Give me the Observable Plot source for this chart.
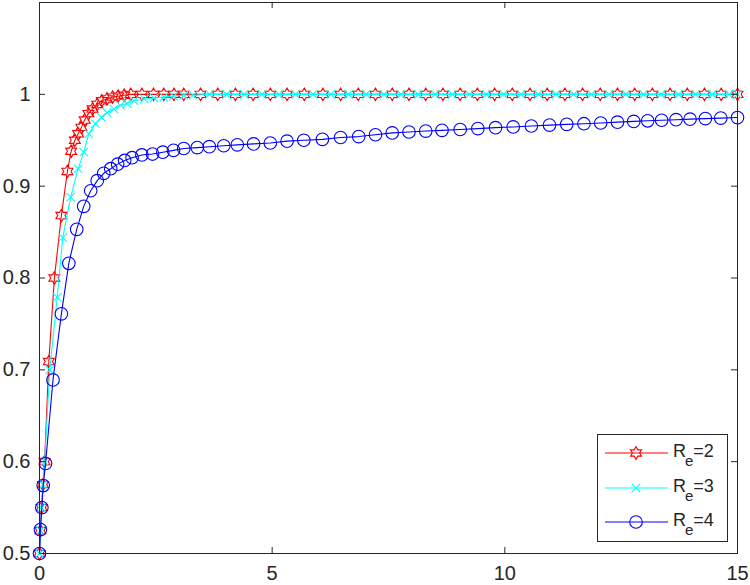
<!DOCTYPE html>
<html><head><meta charset="utf-8">
<script src="https://cdn.jsdelivr.net/npm/d3@7"></script>
<script src="https://cdn.jsdelivr.net/npm/@observablehq/plot@0.6"></script>
<style>html,body{margin:0;padding:0;background:#fff}</style>
</head><body><div id="chart"></div>
<script>
// R_e = 2 (red hexagrams)
const xRe2 = [0, 0.02, 0.045, 0.075, 0.11, 0.2, 0.32, 0.47, 0.6, 0.68, 0.76, 0.83, 0.9, 0.97, 1.05, 1.14, 1.24, 1.34, 1.45, 1.57, 1.69, 1.82, 1.96, 2.2, 2.45, 2.67, 2.89, 3.1, 3.46, 3.83, 4.21, 4.59, 4.96, 5.32, 5.69, 6.09, 6.47, 6.85, 7.22, 7.58, 7.94, 8.3, 8.67, 9.04, 9.41, 9.78, 10.16, 10.54, 10.91, 11.29, 11.67, 12.05, 12.42, 12.79, 13.17, 13.55, 13.92, 14.29, 14.65, 15];
const yRe2 = [0.5, 0.525, 0.55, 0.575, 0.6, 0.709, 0.8, 0.868, 0.916, 0.938, 0.95, 0.957, 0.964, 0.972, 0.979, 0.984, 0.989, 0.993, 0.995, 0.997, 0.998, 0.999, 1, 1, 1, 1, 1, 1, 1, 1, 1, 1, 1, 1, 1, 1, 1, 1, 1, 1, 1, 1, 1, 1, 1, 1, 1, 1, 1, 1, 1, 1, 1, 1, 1, 1, 1, 1, 1, 1];
// R_e = 3 (cyan crosses)
const xRe3 = [0, 0.02, 0.045, 0.075, 0.11, 0.22, 0.38, 0.5, 0.67, 0.83, 0.95, 1.06, 1.2, 1.33, 1.45, 1.6, 1.74, 1.88, 2.03, 2.25, 2.46, 2.67, 2.88, 3.1, 3.3, 3.65, 4.02, 4.4, 4.78, 5.15, 5.5, 5.88, 6.26, 6.64, 7.02, 7.4, 7.77, 8.14, 8.5, 8.87, 9.24, 9.6, 9.97, 10.35, 10.72, 11.1, 11.48, 11.86, 12.24, 12.6, 12.98, 13.36, 13.73, 14.1, 14.46, 14.82, 15];
const yRe3 = [0.5, 0.525, 0.55, 0.575, 0.6, 0.7, 0.779, 0.844, 0.888, 0.919, 0.937, 0.957, 0.968, 0.975, 0.98, 0.984, 0.988, 0.99, 0.993, 0.995, 0.996, 0.997, 0.998, 0.999, 0.999, 1, 1, 1, 1, 1, 1, 1, 1, 1, 1, 1, 1, 1, 1, 1, 1, 1, 1, 1, 1, 1, 1, 1, 1, 1, 1, 1, 1, 1, 1, 1, 1];
// R_e = 4 (blue circles)
const xRe4 = [0, 0.02, 0.05, 0.08, 0.13, 0.29, 0.47, 0.63, 0.8, 0.95, 1.1, 1.24, 1.38, 1.53, 1.68, 1.83, 1.99, 2.2, 2.43, 2.65, 2.88, 3.1, 3.39, 3.65, 3.96, 4.25, 4.6, 4.96, 5.32, 5.68, 6.08, 6.47, 6.86, 7.22, 7.58, 7.94, 8.3, 8.65, 9.04, 9.42, 9.8, 10.18, 10.57, 10.96, 11.33, 11.7, 12.06, 12.42, 12.77, 13.07, 13.37, 13.68, 13.98, 14.31, 14.64, 15];
const yRe4 = [0.5, 0.526, 0.55, 0.574, 0.598, 0.689, 0.761, 0.816, 0.853, 0.878, 0.895, 0.906, 0.914, 0.919, 0.924, 0.928, 0.931, 0.934, 0.935, 0.937, 0.939, 0.941, 0.942, 0.943, 0.944, 0.945, 0.946, 0.947, 0.949, 0.95, 0.951, 0.953, 0.954, 0.956, 0.958, 0.959, 0.96, 0.9608, 0.9617, 0.9627, 0.9637, 0.9645, 0.9655, 0.9665, 0.9673, 0.968, 0.9688, 0.9697, 0.9705, 0.9712, 0.9718, 0.9724, 0.973, 0.9736, 0.9741, 0.9747];

const seriesValues = ["2", "3", "4"];
const seriesColors = ["#ff0000", "#00ffff", "#0000ff"];
const xTicks = [0, 5, 10, 15];
const yTicks = [0.5, 0.6, 0.7, 0.8, 0.9, 1];

const hexagram = {
  draw(ctx, size) {
    const R = Math.sqrt(size / Math.PI);
    const r = R / Math.sqrt(3);
    for (let i = 0; i < 12; i++) {
      const a = -Math.PI / 2 + i * Math.PI / 6;
      const rr = i % 2 ? r : R;
      const px = rr * Math.cos(a), py = rr * Math.sin(a);
      if (i) ctx.lineTo(px, py); else ctx.moveTo(px, py);
    }
    ctx.closePath();
  }
};
const symbols = [hexagram, "times", "circle"];
const radii = [6.3, 3.9, 6.3];

const toRows = (xs, ys) => xs.map((x, i) => ({x, y: ys[i]}));
const series = [toRows(xRe2, yRe2), toRows(xRe3, yRe3), toRows(xRe4, yRe4)];

const W = 750, H = 585, ML = 39, MR = 13, MT = 2, MB = 32;
const TL = 6;
const ink = "#262626";

const marks = [];
series.forEach((rows, i) => {
  marks.push(Plot.line(rows, {x: "x", y: "y", stroke: seriesColors[i], strokeWidth: 1.1}));
  marks.push(Plot.dot(rows, {x: "x", y: "y", stroke: seriesColors[i], fill: "none", strokeWidth: 1.1, symbol: symbols[i], r: radii[i]}));
});

const plot = Plot.plot({
  width: W, height: H,
  marginLeft: ML, marginRight: MR, marginTop: MT, marginBottom: MB,
  x: {domain: [0, 15]},
  y: {domain: [0.5, 1.1]},
  style: {fontFamily: "'Liberation Sans', Arial, sans-serif", fontSize: "20px", color: ink, background: "#fff"},
  marks: [
    ...marks,
    Plot.frame({stroke: ink, strokeWidth: 1}),
    Plot.ruleY(yTicks, {y: d => d, stroke: ink, insetRight: W - ML - MR - TL}),
    Plot.ruleY(yTicks, {y: d => d, stroke: ink, insetLeft: W - ML - MR - TL}),
    Plot.ruleX(xTicks, {x: d => d, stroke: ink, insetTop: H - MT - MB - TL}),
    Plot.ruleX(xTicks, {x: d => d, stroke: ink, insetBottom: H - MT - MB - TL}),
    Plot.axisY({ticks: yTicks, tickSize: 0, tickPadding: 9, tickFormat: d => String(d), label: null, fill: ink}),
    Plot.axisX({ticks: xTicks, tickSize: 0, tickPadding: 12, tickFormat: d => String(d), label: null, fill: ink})
  ]
});
document.getElementById("chart").appendChild(plot);

// Legend
const svg = d3.select(plot);
const lg = svg.append("g").attr("font-family", "'Liberation Sans', Arial, sans-serif").attr("fill", ink).attr("text-anchor", "start");
lg.append("rect").attr("x", 597.5).attr("y", 434.5).attr("width", 130).attr("height", 107)
  .attr("fill", "#fff").attr("stroke", ink).attr("stroke-width", 1);
const rowY = [453, 488, 522];
seriesValues.forEach((v, i) => {
  const g = lg.append("g");
  g.append("line").attr("x1", 605).attr("x2", 668).attr("y1", rowY[i]).attr("y2", rowY[i])
    .attr("stroke", seriesColors[i]).attr("stroke-width", 1.1);
  const sym = typeof symbols[i] === "string" ? (symbols[i] === "times" ? d3.symbolTimes : d3.symbolCircle) : symbols[i];
  g.append("path").attr("d", d3.symbol(sym, Math.PI * radii[i] * radii[i])())
    .attr("transform", `translate(636,${rowY[i]})`).attr("fill", "none")
    .attr("stroke", seriesColors[i]).attr("stroke-width", 1.1);
  const t = g.append("text").attr("x", 673).attr("y", rowY[i] + 4).attr("font-size", 18).attr("text-anchor", "start");
  t.append("tspan").text("R");
  t.append("tspan").attr("font-size", 15).attr("dy", 9).attr("dx", -1).text("e");
  t.append("tspan").attr("dy", -9).text("=" + v);
});
</script>
</body></html>
